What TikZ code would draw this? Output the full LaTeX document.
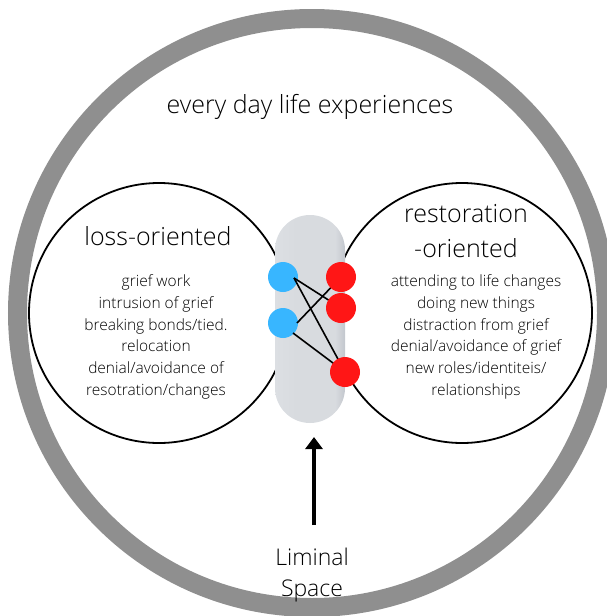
\documentclass[tikz,border=0pt]{standalone}
\usepackage{fontspec}
\setmainfont{Open Sans Light}
\usetikzlibrary{arrows.meta,calc}
\definecolor{ringgray}{HTML}{8F8F8F}
\definecolor{dotblue}{HTML}{38B6FF}
\definecolor{dotred}{HTML}{FF1616}
\definecolor{pilllight}{HTML}{DCDFE3}
\definecolor{pillmid}{HTML}{D8DBDF}
\definecolor{pilldark}{HTML}{C3C7CD}
% soft bar: flat grey with a darker rim on the right
\pgfdeclarehorizontalshading{pillshade}{100bp}{color(0bp)=(pilllight); color(25bp)=(pilllight);
  color(40bp)=(pillmid); color(68bp)=(pillmid); color(75bp)=(pilldark); color(100bp)=(pilldark)}
\begin{document}
\begin{tikzpicture}[x=1pt,y=-1pt,
  zone/.style={draw=black,line width=1.8pt,circle,minimum size=260pt,inner sep=0pt},
  heading/.style={font=\fontsize{25}{35}\selectfont,align=center,inner sep=0pt},
  listtext/.style={font=\fontsize{15.5}{21.7}\selectfont,align=center,inner sep=0pt},
  bluedot/.style={circle,fill=dotblue,minimum size=30pt,inner sep=0pt},
  reddot/.style={circle,fill=dotred,minimum size=30pt,inner sep=0pt},
  link/.style={line width=1.6pt,black},
  pointer/.style={line width=4pt,black,-{Triangle[width=17pt,length=12pt]}}]
\useasboundingbox (0,0) rectangle (607,616);
\clip (0,0) rectangle (607,616);

% outer ring of everyday life
\node[draw=ringgray,line width=19pt,circle,minimum size=589pt,inner sep=0pt] (world) at (312,313) {};
\node[heading,anchor=base] (worldlabel) at (310,113) {every day life experiences};

% the two orientations
\node[zone] (loss) at (159,313) {};
\node[zone] (restore) at (462,313) {};

\node[heading,anchor=base] (losshead) at (158,245) {loss-oriented};
\node[listtext] (losslist) at (156,337) {grief work\\intrusion of grief\\breaking bonds/tied.\\relocation\\denial/avoidance of\\resotration/changes};

\node[heading] (resthead) at (466,231) {restoration\\-oriented};
\node[listtext] (restlist) at (476,337) {attending to life changes\\doing new things\\distraction from grief\\denial/avoidance of grief\\new roles/identiteis/\\relationships};

% liminal space between them
\node[rounded corners=35pt,minimum width=70pt,minimum height=208pt,inner sep=0pt,
      shading=pillshade] (pill) at (310,319) {};

\node[bluedot] (b1) at (283,277) {};
\node[bluedot] (b2) at (283,323) {};

\coordinate (r1c) at (341,277);
\coordinate (r2c) at (341,308);
\coordinate (r3c) at (345,372);
\coordinate (s1) at (294,278);
\coordinate (s2) at (297,323);
\coordinate (s3) at (293,333);

\draw[link] (s1) -- (r2c);
\draw[link] (s1) -- (r3c);
\draw[link] (s2) -- (r1c);
\draw[link] (s3) -- (r3c);

\node[reddot] (r1) at (r1c) {};
\node[reddot] (r2) at (r2c) {};
\node[reddot] (r3) at (r3c) {};

% label and arrow
\node[font=\fontsize{23}{31}\selectfont,align=center,inner sep=0pt] (liminal) at (312,575) {Liminal\\Space};
\coordinate (foot) at (314,525);
\coordinate (tip) at (314,437);
\draw[pointer] (foot) -- (tip);
\end{tikzpicture}
\end{document}
